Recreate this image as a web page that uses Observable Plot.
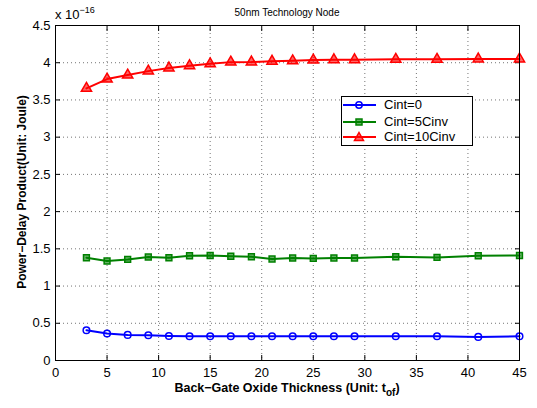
<!DOCTYPE html>
<html>
<head>
<meta charset="utf-8">
<script src="https://cdn.jsdelivr.net/npm/d3@7"></script>
<script src="https://cdn.jsdelivr.net/npm/@observablehq/plot@0.6"></script>
<style>
  html, body { margin: 0; padding: 0; background: white; }
  #wrap { position: relative; width: 537px; height: 408px; font-family: "Liberation Sans", Arial, sans-serif; color: #000; }
  .abs { position: absolute; white-space: nowrap; }
  #legend { position: absolute; left: 341px; top: 96px; width: 130px; height: 48px; border: 1px solid #000; background: #fff; }
  .li { position: absolute; left: 0; height: 16px; font-size: 13px; line-height: 16px; }
  .li svg { position: absolute; left: 0; top: 0; }
  .li span { position: absolute; left: 42px; top: 0; }
</style>
</head>
<body>
<div id="wrap"></div>
<script>
// ---- data (values in units of 1e-16 Joule) ----
const thickness = [3, 5, 7, 9, 11, 13, 15, 17, 19, 21, 23, 25, 27, 29, 33, 37, 41, 45];
const cint0 = [0.406, 0.362, 0.344, 0.340, 0.330, 0.326, 0.326, 0.326, 0.326, 0.326, 0.326, 0.326, 0.326, 0.326, 0.326, 0.326, 0.317, 0.326];
const cint5 = [1.380, 1.336, 1.358, 1.390, 1.380, 1.407, 1.410, 1.400, 1.394, 1.363, 1.377, 1.371, 1.377, 1.377, 1.394, 1.385, 1.407, 1.410];
const cint10 = [3.655, 3.780, 3.834, 3.887, 3.930, 3.960, 3.985, 4.008, 4.010, 4.020, 4.025, 4.035, 4.040, 4.040, 4.045, 4.045, 4.050, 4.050];
const seriesNames = ["Cint=0", "Cint=5Cinv", "Cint=10Cinv"];
const seriesColors = ["#0000ff", "#008000", "#ff0000"];
const seriesSymbols = ["circle", "square", "triangle"];
const xTicks = [0, 5, 10, 15, 20, 25, 30, 35, 40, 45];
const yTicks = [0, 0.5, 1, 1.5, 2, 2.5, 3, 3.5, 4, 4.5];

const seriesValues = [cint0, cint5, cint10];
const rows = [];
seriesValues.forEach((vals, s) => vals.forEach((v, i) => rows.push({x: thickness[i], y: v, s: seriesNames[s]})));

const fmt = d => String(d);
const marks = [
  Plot.gridX(xTicks, {stroke: "#000", strokeOpacity: 0.55, strokeDasharray: "1,3"}),
  Plot.gridY(yTicks, {stroke: "#000", strokeOpacity: 0.55, strokeDasharray: "1,3"}),
  Plot.axisX(xTicks, {anchor: "bottom", tickSize: 0, tickPadding: 7, tickFormat: fmt, fontSize: 13, label: null}),
  Plot.axisY(yTicks, {anchor: "left", tickSize: 0, tickPadding: 5, tickFormat: fmt, fontSize: 13, label: null}),
  Plot.axisX(xTicks, {anchor: "bottom", tickSize: -5, tickFormat: () => "", label: null}),
  Plot.axisX(xTicks, {anchor: "top", tickSize: -5, tickFormat: () => "", label: null}),
  Plot.axisY(yTicks, {anchor: "left", tickSize: -5, tickFormat: () => "", label: null}),
  Plot.axisY(yTicks, {anchor: "right", tickSize: -5, tickFormat: () => "", label: null})
];
seriesNames.forEach((name, s) => {
  const d = rows.filter(r => r.s === name);
  marks.push(Plot.line(d, {x: "x", y: "y", stroke: seriesColors[s], strokeWidth: 2}));
  marks.push(Plot.dot(d, {x: "x", y: "y", symbol: seriesSymbols[s], stroke: seriesColors[s], fill: s === 0 ? "none" : seriesColors[s], fillOpacity: s === 0 ? 0 : 0.6, strokeWidth: 1.5, r: s === 2 ? 3.8 : 3.3}));
});
marks.push(Plot.frame({stroke: "#000", strokeWidth: 1}));

const chart = Plot.plot({
  width: 537, height: 408,
  marginLeft: 55, marginRight: 18, marginTop: 25, marginBottom: 48,
  x: {domain: [0, 45], axis: null},
  y: {domain: [0, 4.5], axis: null},
  style: {fontFamily: "Liberation Sans, Arial, sans-serif", fontSize: "13px", background: "white", color: "#000", overflow: "visible"},
  marks
});
const wrap = document.getElementById("wrap");
chart.style.position = "absolute";
chart.style.left = "0px";
chart.style.top = "0px";
wrap.appendChild(chart);

function addText(html, css) {
  const el = document.createElement("div");
  el.className = "abs";
  el.innerHTML = html;
  Object.assign(el.style, css);
  wrap.appendChild(el);
  return el;
}
// title
addText("50nm Technology Node", {left: "287px", top: "7px", fontSize: "10px", transform: "translateX(-50%)"});
// exponent multiplier
addText('x 10<sup style="font-size:9px;position:relative;top:-1px;">&minus;16</sup>', {left: "55px", top: "6px", fontSize: "13px"});
// x label
addText('<b>Back&minus;Gate Oxide Thickness (Unit: t<sub style="font-size:10px;">of</sub>)</b>', {left: "287px", top: "381px", fontSize: "12.5px", transform: "translateX(-50%)"});
// y label
addText('<b>Power&minus;Delay Product(Unit: Joule)</b>', {left: "22px", top: "192px", fontSize: "12px", transform: "translate(-50%,-50%) rotate(-90deg)"});

// legend
const leg = document.createElement("div");
leg.id = "legend";
wrap.appendChild(leg);
const symPaths = {
  circle: c => `<circle cx="17" cy="8" r="3.2" fill="none" stroke="${c}" stroke-width="1.5"/>`,
  square: c => `<rect x="14" y="5" width="6" height="6" fill="${c}" fill-opacity="0.6" stroke="${c}" stroke-width="1.5"/>`,
  triangle: c => `<path d="M17,3.5 L21.5,11.5 L12.5,11.5 Z" fill="${c}" fill-opacity="0.6" stroke="${c}" stroke-width="1.5"/>`
};
const legTops = [0, 17, 32];
seriesNames.forEach((name, s) => {
  const li = document.createElement("div");
  li.className = "li";
  li.style.top = legTops[s] + "px";
  li.style.width = "130px";
  li.innerHTML = `<svg width="40" height="16"><line x1="1" x2="34" y1="8" y2="8" stroke="${seriesColors[s]}" stroke-width="2"/>${symPaths[seriesSymbols[s]](seriesColors[s])}</svg><span>${name}</span>`;
  leg.appendChild(li);
});
</script>
</body>
</html>
